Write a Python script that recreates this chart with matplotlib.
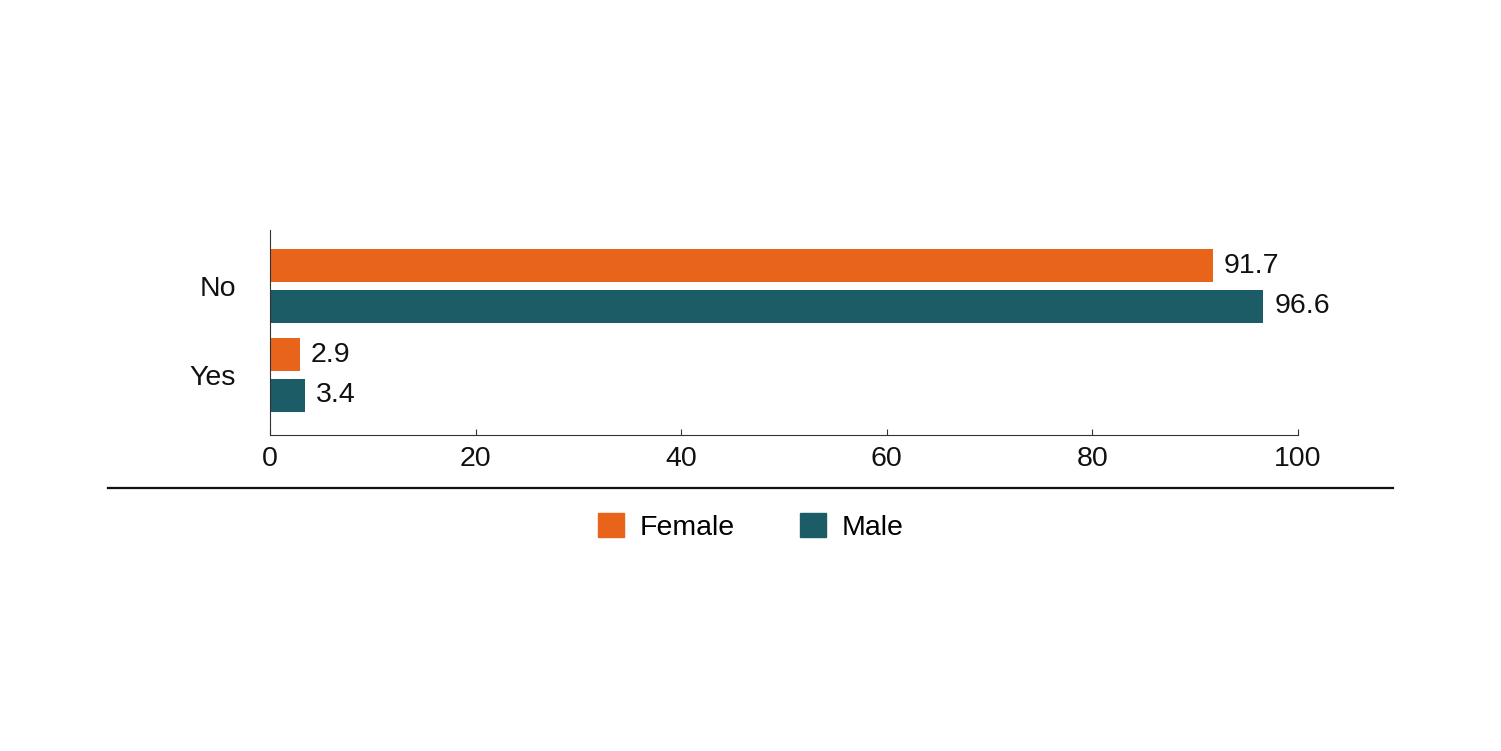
import numpy as np
import matplotlib
matplotlib.use("Agg")
import matplotlib.pyplot as plt
from matplotlib.patches import Patch
from matplotlib.lines import Line2D

plt.rcParams['font.family'] = ['Liberation Sans', 'DejaVu Sans']

categories = ["No", "Yes"]
female = [91.7, 2.9]
male = [96.6, 3.4]
xticks = [0, 20, 40, 60, 80, 100]

c_female = "#E8641B"
c_male = "#1B5C66"
fs = 20.5

fig = plt.figure(figsize=(15.01, 7.51), dpi=100)
ax = fig.add_axes([270/1501, 316/751, 1028/1501, 205/751])

ypos = np.array([1.0, 0.0])
off = 0.23
h = 0.37
bf = ax.barh(ypos + off, female, height=h, color=c_female)
bm = ax.barh(ypos - off, male, height=h, color=c_male)

for bars, vals in ((bf, female), (bm, male)):
    for b, v in zip(bars, vals):
        ax.text(v + 1.1, b.get_y() + b.get_height()/2, f"{v:.1f}",
                va="center", ha="left", fontsize=fs, color="#111111")

ax.set_xlim(0, 100)
ax.set_ylim(-0.674, 1.629)
ax.set_xticks(xticks)
ax.set_yticks(ypos)
ax.set_yticklabels(categories)
ax.tick_params(axis="x", direction="in", length=4, width=0.8, pad=8,
               labelsize=fs, colors="#333333", labelcolor="#111111")
ax.tick_params(axis="y", length=0, pad=24.5, labelsize=fs, labelcolor="#111111")
for s in ("top", "right"):
    ax.spines[s].set_visible(False)
for s in ("left", "bottom"):
    ax.spines[s].set_linewidth(0.8)
    ax.spines[s].set_color("#333333")

fig.add_artist(Line2D([108/1501, 1393/1501], [1 - 488/751, 1 - 488/751],
                      color="#111111", linewidth=1.6))

handles = [Patch(color=c_female, label="Female"), Patch(color=c_male, label="Male")]
fig.legend(handles=handles, loc="center", bbox_to_anchor=(751/1501, 1 - 527/751),
           ncol=2, frameon=False, fontsize=fs, handlelength=0.9, handleheight=0.9,
           handletextpad=0.55, columnspacing=2.3)

fig.savefig("out.png", dpi=100, facecolor="white")
